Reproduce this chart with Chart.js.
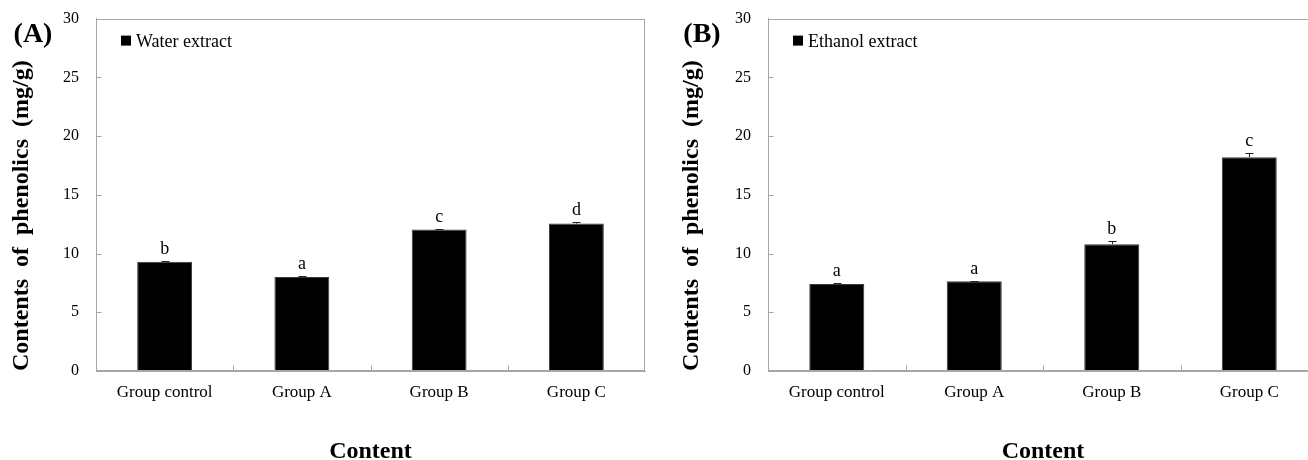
<!DOCTYPE html>
<html>
<head>
<meta charset="utf-8">
<script src="https://cdn.jsdelivr.net/npm/chart.js@4.4.1/dist/chart.umd.min.js"></script>
<style>
    body { margin: 0; background: #fff; width: 1308px; height: 460px; overflow: hidden; position: relative; }
    .panel { position: absolute; top: 0; height: 460px; overflow: hidden; }
    .panel canvas { position: absolute; left: 0; top: -8px; }
</style>
</head>
<body>
<div class="panel" style="left:0; width:660px;"><canvas id="chartA" width="660" height="468" style="width:660px;height:468px"></canvas></div>
<div class="panel" style="left:660px; width:648px;"><canvas id="chartB" width="660" height="468" style="width:660px;height:468px"></canvas></div>
<script>
// データ
const categories = ['Group control', 'Group A', 'Group B', 'Group C'];
const waterMeans = [9.3, 8.0, 12.05, 12.55];
const waterErrors = [0.08, 0.1, 0.05, 0.15];
const waterLetters = ['b', 'a', 'c', 'd'];
const ethanolMeans = [7.4, 7.65, 10.8, 18.2];
const ethanolErrors = [0.1, 0.05, 0.25, 0.4];
const ethanolLetters = ['a', 'a', 'b', 'c'];
const yMin = 0;
const yMax = 30;
const yStep = 5;

const SERIF = "'Liberation Serif', 'Times New Roman', serif";
const AXIS_GRAY = '#a6a6a6';

// 枠・目盛り・エラーバー・記号・凡例の描画
const decorPlugin = {
    id: 'decor',
    afterDatasetsDraw(chart, args, opts) {
        const ctx = chart.ctx;
        const area = chart.chartArea;
        const ys = chart.scales.y;
        ctx.save();

        // プロット枠
        ctx.strokeStyle = AXIS_GRAY;
        ctx.lineWidth = 1;
        const L = Math.round(area.left) + 0.5;
        const T = Math.round(area.top) + 0.5;
        const R = Math.round(area.right) - 0.5;
        const B = Math.round(area.bottom) - 0.5;
        ctx.strokeRect(L, T, R - L, B - T);

        // 内向きの目盛り
        ctx.beginPath();
        for (let v = yMin + yStep; v < yMax; v += yStep) {
            const y = Math.round(ys.getPixelForValue(v)) + 0.5;
            ctx.moveTo(L, y);
            ctx.lineTo(L + 5, y);
        }
        const catW = (area.right - area.left) / categories.length;
        for (let i = 1; i < categories.length; i++) {
            const x = Math.round(area.left + catW * i) + 0.5;
            ctx.moveTo(x, B);
            ctx.lineTo(x, B - 5);
        }
        ctx.stroke();

        // エラーバーと有意差記号
        const meta = chart.getDatasetMeta(0);
        const means = chart.data.datasets[0].data;
        ctx.strokeStyle = '#222';
        ctx.fillStyle = '#000';
        ctx.font = '18px ' + SERIF;
        ctx.textAlign = 'center';
        ctx.textBaseline = 'alphabetic';
        meta.data.forEach((bar, i) => {
            const x = Math.round(bar.x) + 0.5;
            const yTop = Math.round(ys.getPixelForValue(means[i] + opts.errors[i])) + 0.5;
            const yVal = ys.getPixelForValue(means[i]);
            ctx.beginPath();
            ctx.moveTo(x, yVal);
            ctx.lineTo(x, yTop);
            ctx.moveTo(x - 4, yTop);
            ctx.lineTo(x + 4, yTop);
            ctx.stroke();
            ctx.fillText(opts.letters[i], bar.x, yTop - 8);
        });

        // 凡例
        ctx.fillStyle = '#000';
        ctx.fillRect(area.left + 25, area.top + 17, 10, 10);
        ctx.font = '18px ' + SERIF;
        ctx.textAlign = 'left';
        ctx.fillText(chart.data.datasets[0].label, area.left + 40, area.top + 28);

        // パネル記号
        ctx.font = 'bold 28px ' + SERIF;
        ctx.textAlign = 'center';
        ctx.fillText(opts.panel, opts.panelX, area.top + 23);

        ctx.restore();
    }
};

function createChart(canvasId, label, means, errors, letters, panel, panelX, axisWidth, titlePad, padRight) {
    const ctx = document.getElementById(canvasId).getContext('2d');
    return new Chart(ctx, {
        type: 'bar',
        data: {
            labels: categories,
            datasets: [{
                label: label,
                data: means,
                backgroundColor: '#000',
                borderColor: '#3a3a3a',
                borderWidth: 1,
                categoryPercentage: 1.0,
                barPercentage: 0.4
            }]
        },
        options: {
            responsive: false,
            animation: false,
            layout: { padding: { top: 12, right: padRight, left: 0, bottom: 0 } },
            scales: {
                x: {
                    grid: { display: false, drawTicks: false, tickLength: 0 },
                    border: { display: true, color: AXIS_GRAY },
                    ticks: { color: '#000', font: { family: SERIF, size: 17 }, padding: 11, maxRotation: 0 },
                    title: {
                        display: true,
                        text: 'Content',
                        color: '#000',
                        font: { family: SERIF, size: 24, weight: 'bold', lineHeight: 0.7 },
                        padding: 0
                    },
                    afterFit: scale => { scale.height = 89; }
                },
                y: {
                    min: yMin,
                    max: yMax,
                    grid: { display: false, drawTicks: false, tickLength: 0 },
                    border: { display: true, color: AXIS_GRAY },
                    ticks: { stepSize: yStep, color: '#000', font: { family: SERIF, size: 16 }, padding: 17 },
                    title: {
                        display: true,
                        align: 'start',
                        text: 'Contents  of  phenolics  (mg/g)',
                        color: '#000',
                        font: { family: SERIF, size: 24, weight: 'bold', lineHeight: 1.2 },
                        padding: { top: titlePad, bottom: 0 }
                    },
                    afterFit: scale => { scale.width = axisWidth; }
                }
            },
            plugins: {
                legend: { display: false },
                tooltip: { enabled: false },
                decor: { errors: errors, letters: letters, panel: panel, panelX: panelX }
            }
        },
        plugins: [decorPlugin]
    });
}

createChart('chartA', 'Water extract', waterMeans, waterErrors, waterLetters, '(A)', 33, 96, 7, 15);
createChart('chartB', 'Ethanol extract', ethanolMeans, ethanolErrors, ethanolLetters, '(B)', 42, 108, 17, 2);
</script>
</body>
</html>
